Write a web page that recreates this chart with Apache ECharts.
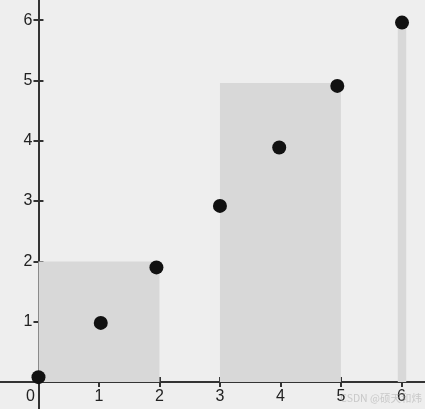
<!DOCTYPE html>
<html>
<head>
<meta charset="utf-8">
<script src="https://cdn.jsdelivr.net/npm/echarts@6/dist/echarts.min.js"></script>
<style>
html,body{margin:0;padding:0;background:#eeeeee;}
#chart{width:425px;height:409px;}
</style>
</head>
<body>
<div id="chart"></div>
<script>
// Data
var pointX = [0, 1.03, 1.95, 3.0, 3.98, 4.94, 6.01];
var pointY = [0.08, 0.98, 1.9, 2.92, 3.89, 4.91, 5.96];
var rectStart = [0, 3, 5.94];
var rectEnd = [2, 5, 6.08];
var rectHeight = [2, 4.96, 6.0];
var xTicks = [0, 1, 2, 3, 4, 5, 6];
var yTicks = [0, 1, 2, 3, 4, 5, 6];
var watermark = 'CSDN @硕天和炜';

var xMin = -0.636, xMax = 6.39, yMin = -0.448, yMax = 6.335;
var W = 425, H = 409;

var points = pointX.map(function (x, i) { return [x, pointY[i]]; });
var rects = rectStart.map(function (s, i) { return [s, rectEnd[i], rectHeight[i]]; });

// place axes where the other axis is zero
var xAxisOffset = -((0 - yMin) / (yMax - yMin)) * H;
var yAxisOffset = -((0 - xMin) / (xMax - xMin)) * W;

var labelFont = { fontFamily: 'Liberation Sans, Arial, sans-serif', fontSize: 16, color: '#222' };
var tickStyle = { color: '#333', width: 2 };

var chart = echarts.init(document.getElementById('chart'), null, { renderer: 'canvas' });
chart.setOption({
  backgroundColor: '#eeeeee',
  animation: false,
  grid: { left: 0, right: 0, top: 0, bottom: 0, containLabel: false, outerBoundsMode: 'none' },
  xAxis: [{
    type: 'value', min: xMin, max: xMax, position: 'bottom', offset: xAxisOffset,
    axisLine: { onZero: false, lineStyle: { color: '#333', width: 2 } },
    axisTick: { show: true, length: 5, customValues: xTicks, lineStyle: tickStyle },
    axisLabel: Object.assign({
      customValues: xTicks, margin: 7, hideOverlap: false,
      formatter: function (v) { return v === 0 ? '{o|0}' : String(v); },
      rich: { o: { fontFamily: 'Liberation Sans, Arial, sans-serif', fontSize: 16, color: '#222', padding: [0, 16, 0, 0] } }
    }, labelFont),
    splitLine: { show: false }
  }, {
    type: 'value', min: xMin, max: xMax, position: 'bottom', offset: xAxisOffset,
    axisLine: { show: false, onZero: false },
    axisTick: { show: true, inside: true, length: 5, customValues: xTicks, lineStyle: tickStyle },
    axisLabel: { show: false },
    splitLine: { show: false }
  }],
  yAxis: [{
    type: 'value', min: yMin, max: yMax, position: 'left', offset: yAxisOffset,
    axisLine: { onZero: false, lineStyle: { color: '#333', width: 2 } },
    axisTick: { show: true, length: 5, customValues: yTicks, lineStyle: tickStyle },
    axisLabel: Object.assign({
      customValues: yTicks, margin: 6, hideOverlap: false,
      formatter: function (v) { return v === 0 ? '' : String(v); }
    }, labelFont),
    splitLine: { show: false }
  }, {
    type: 'value', min: yMin, max: yMax, position: 'left', offset: yAxisOffset,
    axisLine: { show: false, onZero: false },
    axisTick: { show: true, inside: true, length: 5, customValues: yTicks, lineStyle: tickStyle },
    axisLabel: { show: false },
    splitLine: { show: false }
  }],
  series: [{
    type: 'custom',
    xAxisIndex: 0, yAxisIndex: 0,
    z: 1,
    data: rects,
    renderItem: function (params, api) {
      var p0 = api.coord([api.value(0), api.value(2)]);
      var p1 = api.coord([api.value(1), 0]);
      return {
        type: 'rect',
        shape: { x: p0[0], y: p0[1], width: p1[0] - p0[0], height: p1[1] - p0[1] },
        style: { fill: '#d8d8d8' }
      };
    }
  }, {
    type: 'scatter',
    xAxisIndex: 0, yAxisIndex: 0,
    z: 5,
    symbolSize: 14,
    itemStyle: { color: '#111111', opacity: 1 },
    data: points
  }],
  graphic: [{
    type: 'text',
    right: 3, bottom: 6,
    style: { text: watermark, fill: 'rgba(170,170,170,0.55)', fontSize: 10.5, fontFamily: 'Noto Sans CJK SC, sans-serif' },
    z: 10
  }]
});
</script>
</body>
</html>
